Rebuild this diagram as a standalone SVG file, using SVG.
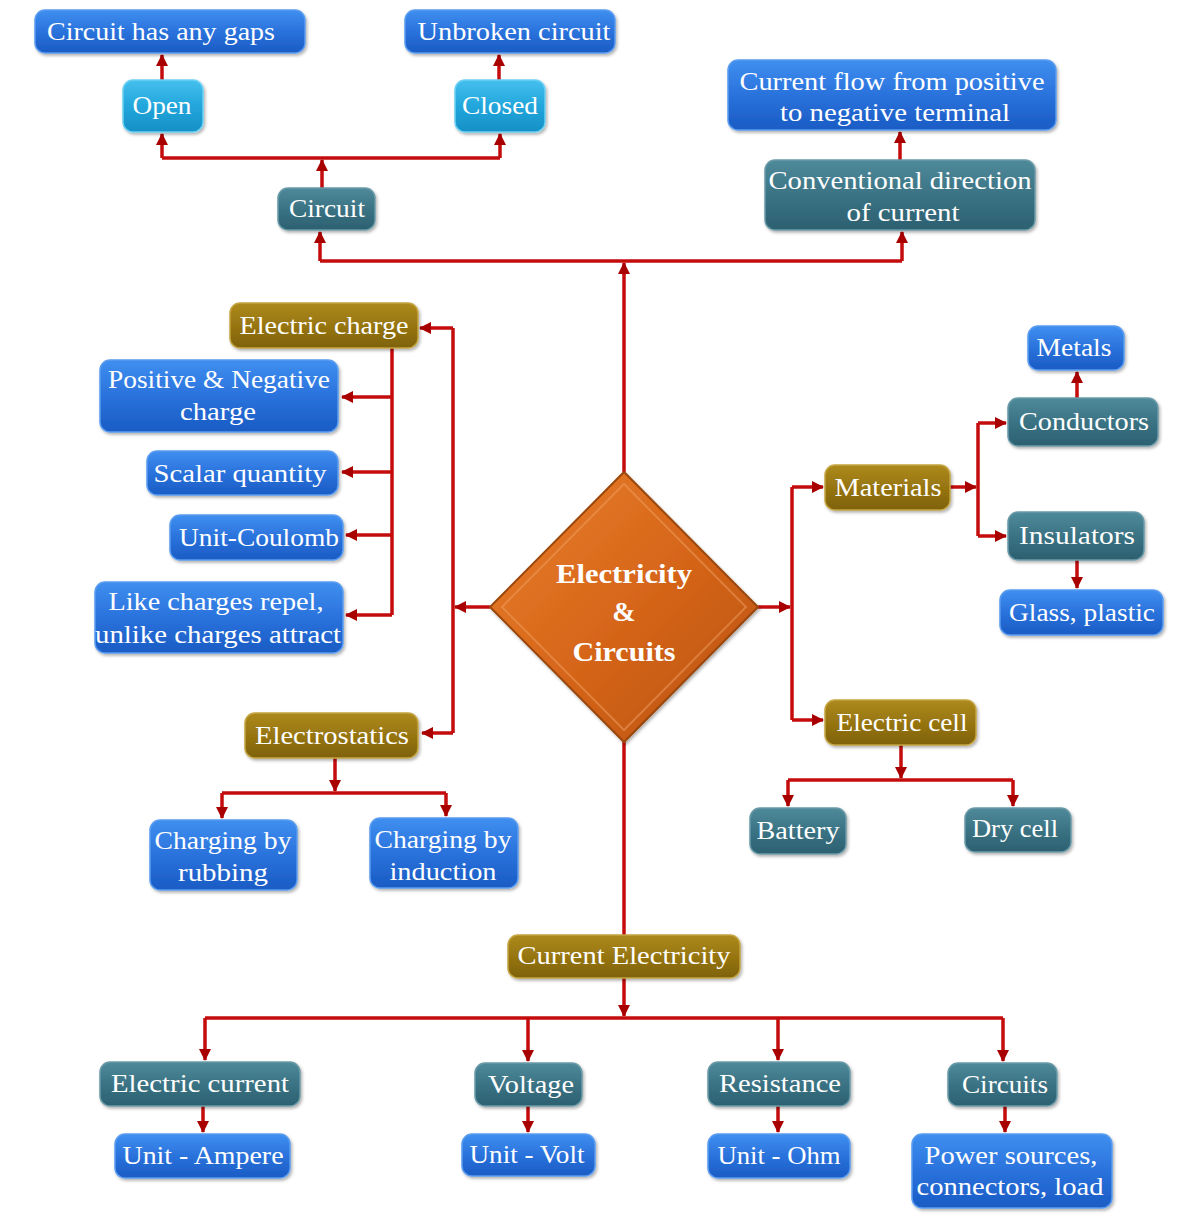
<svg xmlns="http://www.w3.org/2000/svg" width="1200" height="1218" viewBox="0 0 1200 1218">
<defs>
<linearGradient id="gBlue" x1="0" y1="0" x2="0" y2="1"><stop offset="0" stop-color="#3f8ff0"/><stop offset="0.5" stop-color="#2a72dc"/><stop offset="1" stop-color="#1a5bc4"/></linearGradient>
<linearGradient id="gCyan" x1="0" y1="0" x2="0" y2="1"><stop offset="0" stop-color="#45c0ee"/><stop offset="0.5" stop-color="#22a6dc"/><stop offset="1" stop-color="#1690c6"/></linearGradient>
<linearGradient id="gTeal" x1="0" y1="0" x2="0" y2="1"><stop offset="0" stop-color="#4f8a9a"/><stop offset="0.5" stop-color="#3a7384"/><stop offset="1" stop-color="#2c6070"/></linearGradient>
<linearGradient id="gOlive" x1="0" y1="0" x2="0" y2="1"><stop offset="0" stop-color="#ad8a1c"/><stop offset="0.5" stop-color="#977511"/><stop offset="1" stop-color="#7e6208"/></linearGradient>
<linearGradient id="gOrange" x1="0" y1="0" x2="1" y2="1"><stop offset="0" stop-color="#e8802c"/><stop offset="0.5" stop-color="#d7661a"/><stop offset="1" stop-color="#b8520e"/></linearGradient>
<filter id="sh" x="-10%" y="-10%" width="120%" height="130%"><feDropShadow dx="1.5" dy="2" stdDeviation="1.5" flood-color="#000" flood-opacity="0.3"/></filter>
<marker id="ah" markerUnits="userSpaceOnUse" markerWidth="12" markerHeight="12" refX="11" refY="6" orient="auto"><path d="M0,0 L12,6 L0,12 z" fill="#a80000"/></marker>
<style>
.n rect{rx:10;ry:10;stroke-width:1.5;filter:url(#sh)}
.blue rect{fill:url(#gBlue);stroke:#5a9cf0}
.cyan rect{fill:url(#gCyan);stroke:#6cd0f4}
.teal rect{fill:url(#gTeal);stroke:#6a9aa8}
.olive rect{fill:url(#gOlive);stroke:#c4a440}
.n text{font-family:"Liberation Serif","DejaVu Serif",serif;font-size:26px;fill:#fff;text-anchor:middle}
.c path{fill:none;stroke:#c40c0c;stroke-width:3.5;stroke-linejoin:miter}
.c path.a{marker-end:url(#ah)}
.core text{font-family:"Liberation Serif","DejaVu Serif",serif;font-size:28px;font-weight:bold;fill:#fff;text-anchor:middle}
</style>
</defs>
<rect width="1200" height="1218" fill="#fff"/>

<g id="connectors" class="c">
<path class="a" d="M162,80 V55"/>
<path class="a" d="M499,80 V55"/>
<path d="M162,158 H500"/>
<path class="a" d="M322,188 V160"/>
<path class="a" d="M162,158 V134"/>
<path class="a" d="M500,158 V134"/>
<path class="a" d="M624,472 V263"/>
<path d="M320,261 H902"/>
<path class="a" d="M320,261 V232"/>
<path class="a" d="M902,261 V232"/>
<path class="a" d="M900,160 V132"/>
<path class="a" d="M490,607 H455"/>
<path d="M453,328 V733"/>
<path class="a" d="M453,328 H420"/>
<path class="a" d="M453,733 H422"/>
<path d="M392,348 V615"/>
<path class="a" d="M392,397 H342"/>
<path class="a" d="M392,472 H342"/>
<path class="a" d="M392,535 H346"/>
<path class="a" d="M392,615 H346"/>
<path class="a" d="M335,758 V791"/>
<path d="M222,793 H446"/>
<path class="a" d="M222,793 V818"/>
<path class="a" d="M446,793 V816"/>
<path class="a" d="M758,607 H790"/>
<path d="M792,487 V720"/>
<path class="a" d="M792,487 H823"/>
<path class="a" d="M792,720 H823"/>
<path class="a" d="M950,487 H976"/>
<path d="M978,423 V536"/>
<path class="a" d="M978,423 H1006"/>
<path class="a" d="M978,536 H1006"/>
<path class="a" d="M1077,398 V372"/>
<path class="a" d="M1077,560 V588"/>
<path class="a" d="M901,745 V778"/>
<path d="M788,780 H1013"/>
<path class="a" d="M788,780 V806"/>
<path class="a" d="M1013,780 V806"/>
<path d="M624,742 V935"/>
<path class="a" d="M624,978 V1016"/>
<path d="M205,1018 H1003"/>
<path class="a" d="M205,1018 V1060"/>
<path class="a" d="M528,1018 V1061"/>
<path class="a" d="M778,1018 V1060"/>
<path class="a" d="M1003,1018 V1061"/>
<path class="a" d="M203,1106 V1132"/>
<path class="a" d="M528,1106 V1132"/>
<path class="a" d="M778,1106 V1132"/>
<path class="a" d="M1005,1106 V1132"/>
</g>

<g id="core" class="core">
<polygon points="624,472 758,607 624,742 490,607" fill="url(#gOrange)" stroke="#9a4608" stroke-width="2" filter="url(#sh)"/>
<polygon points="624,484 746,607 624,730 502,607" fill="none" stroke="#f0a060" stroke-opacity="0.5" stroke-width="2"/>
<text x="624" y="583" textLength="136" lengthAdjust="spacingAndGlyphs">Electricity</text>
<text x="624" y="621">&amp;</text>
<text x="624" y="661" textLength="103" lengthAdjust="spacingAndGlyphs">Circuits</text>
</g>

<g id="n-gaps" class="n blue"><rect x="35" y="10" width="270" height="43"/><text x="161" y="40" textLength="228" lengthAdjust="spacingAndGlyphs">Circuit has any gaps</text></g>
<g id="n-unbroken" class="n blue"><rect x="405" y="10" width="210" height="43"/><text x="514" y="40" textLength="193" lengthAdjust="spacingAndGlyphs">Unbroken circuit</text></g>
<g id="n-open" class="n cyan"><rect x="123" y="80" width="80" height="52"/><text x="162" y="114" textLength="59" lengthAdjust="spacingAndGlyphs">Open</text></g>
<g id="n-closed" class="n cyan"><rect x="455" y="80" width="90" height="52"/><text x="500" y="114" textLength="76" lengthAdjust="spacingAndGlyphs">Closed</text></g>
<g id="n-circuit" class="n teal"><rect x="278" y="188" width="97" height="42"/><text x="327" y="217" textLength="76" lengthAdjust="spacingAndGlyphs">Circuit</text></g>
<g id="n-flow" class="n blue"><rect x="728" y="60" width="328" height="70"/><text x="892" y="90" textLength="305" lengthAdjust="spacingAndGlyphs">Current flow from positive</text><text x="895" y="121" textLength="230" lengthAdjust="spacingAndGlyphs">to negative terminal</text></g>
<g id="n-conv" class="n teal"><rect x="765" y="160" width="270" height="70"/><text x="900" y="189" textLength="263" lengthAdjust="spacingAndGlyphs">Conventional direction</text><text x="903" y="221" textLength="113" lengthAdjust="spacingAndGlyphs">of current</text></g>

<g id="n-echarge" class="n olive"><rect x="230" y="303" width="188" height="45"/><text x="324" y="334" textLength="169" lengthAdjust="spacingAndGlyphs">Electric charge</text></g>
<g id="n-posneg" class="n blue"><rect x="100" y="360" width="238" height="72"/><text x="219" y="388" textLength="222" lengthAdjust="spacingAndGlyphs">Positive &amp; Negative</text><text x="218" y="420" textLength="76" lengthAdjust="spacingAndGlyphs">charge</text></g>
<g id="n-scalar" class="n blue"><rect x="147" y="451" width="191" height="44"/><text x="240" y="482" textLength="173" lengthAdjust="spacingAndGlyphs">Scalar quantity</text></g>
<g id="n-coulomb" class="n blue"><rect x="170" y="515" width="173" height="45"/><text x="259" y="546" textLength="160" lengthAdjust="spacingAndGlyphs">Unit-Coulomb</text></g>
<g id="n-like" class="n blue"><rect x="95" y="582" width="248" height="71"/><text x="216" y="610" textLength="215" lengthAdjust="spacingAndGlyphs">Like charges repel,</text><text x="218" y="643" textLength="246" lengthAdjust="spacingAndGlyphs">unlike charges attract</text></g>
<g id="n-estatics" class="n olive"><rect x="245" y="713" width="173" height="45"/><text x="332" y="744" textLength="154" lengthAdjust="spacingAndGlyphs">Electrostatics</text></g>
<g id="n-rubbing" class="n blue"><rect x="150" y="820" width="147" height="70"/><text x="223" y="849" textLength="137" lengthAdjust="spacingAndGlyphs">Charging by</text><text x="223" y="881" textLength="90" lengthAdjust="spacingAndGlyphs">rubbing</text></g>
<g id="n-induction" class="n blue"><rect x="370" y="818" width="148" height="70"/><text x="443" y="848" textLength="137" lengthAdjust="spacingAndGlyphs">Charging by</text><text x="443" y="880" textLength="107" lengthAdjust="spacingAndGlyphs">induction</text></g>

<g id="n-materials" class="n olive"><rect x="825" y="465" width="125" height="45"/><text x="888" y="496" textLength="107" lengthAdjust="spacingAndGlyphs">Materials</text></g>
<g id="n-metals" class="n blue"><rect x="1028" y="326" width="96" height="44"/><text x="1074" y="356" textLength="75" lengthAdjust="spacingAndGlyphs">Metals</text></g>
<g id="n-conductors" class="n teal"><rect x="1008" y="398" width="150" height="48"/><text x="1084" y="430" textLength="130" lengthAdjust="spacingAndGlyphs">Conductors</text></g>
<g id="n-insulators" class="n teal"><rect x="1008" y="512" width="136" height="48"/><text x="1077" y="544" textLength="116" lengthAdjust="spacingAndGlyphs">Insulators</text></g>
<g id="n-glass" class="n blue"><rect x="1000" y="590" width="163" height="45"/><text x="1082" y="621" textLength="146" lengthAdjust="spacingAndGlyphs">Glass, plastic</text></g>
<g id="n-cell" class="n olive"><rect x="825" y="700" width="151" height="45"/><text x="902" y="731" textLength="131" lengthAdjust="spacingAndGlyphs">Electric cell</text></g>
<g id="n-battery" class="n teal"><rect x="750" y="808" width="96" height="46"/><text x="798" y="839" textLength="83" lengthAdjust="spacingAndGlyphs">Battery</text></g>
<g id="n-drycell" class="n teal"><rect x="965" y="808" width="106" height="44"/><text x="1015" y="837" textLength="86" lengthAdjust="spacingAndGlyphs">Dry cell</text></g>

<g id="n-curelec" class="n olive"><rect x="508" y="935" width="232" height="43"/><text x="624" y="964" textLength="213" lengthAdjust="spacingAndGlyphs">Current Electricity</text></g>
<g id="n-ecurrent" class="n teal"><rect x="100" y="1062" width="200" height="44"/><text x="200" y="1092" textLength="178" lengthAdjust="spacingAndGlyphs">Electric current</text></g>
<g id="n-voltage" class="n teal"><rect x="475" y="1063" width="107" height="43"/><text x="531" y="1093" textLength="86" lengthAdjust="spacingAndGlyphs">Voltage</text></g>
<g id="n-resistance" class="n teal"><rect x="708" y="1062" width="142" height="44"/><text x="780" y="1092" textLength="122" lengthAdjust="spacingAndGlyphs">Resistance</text></g>
<g id="n-circuits" class="n teal"><rect x="948" y="1063" width="109" height="43"/><text x="1005" y="1093" textLength="86" lengthAdjust="spacingAndGlyphs">Circuits</text></g>
<g id="n-ampere" class="n blue"><rect x="115" y="1134" width="175" height="44"/><text x="203" y="1164" textLength="161" lengthAdjust="spacingAndGlyphs">Unit - Ampere</text></g>
<g id="n-volt" class="n blue"><rect x="462" y="1134" width="133" height="42"/><text x="527" y="1163" textLength="115" lengthAdjust="spacingAndGlyphs">Unit - Volt</text></g>
<g id="n-ohm" class="n blue"><rect x="708" y="1134" width="142" height="44"/><text x="779" y="1164" textLength="123" lengthAdjust="spacingAndGlyphs">Unit - Ohm</text></g>
<g id="n-power" class="n blue"><rect x="912" y="1134" width="200" height="74"/><text x="1011" y="1164" textLength="173" lengthAdjust="spacingAndGlyphs">Power sources,</text><text x="1010" y="1195" textLength="187" lengthAdjust="spacingAndGlyphs">connectors, load</text></g>
</svg>
